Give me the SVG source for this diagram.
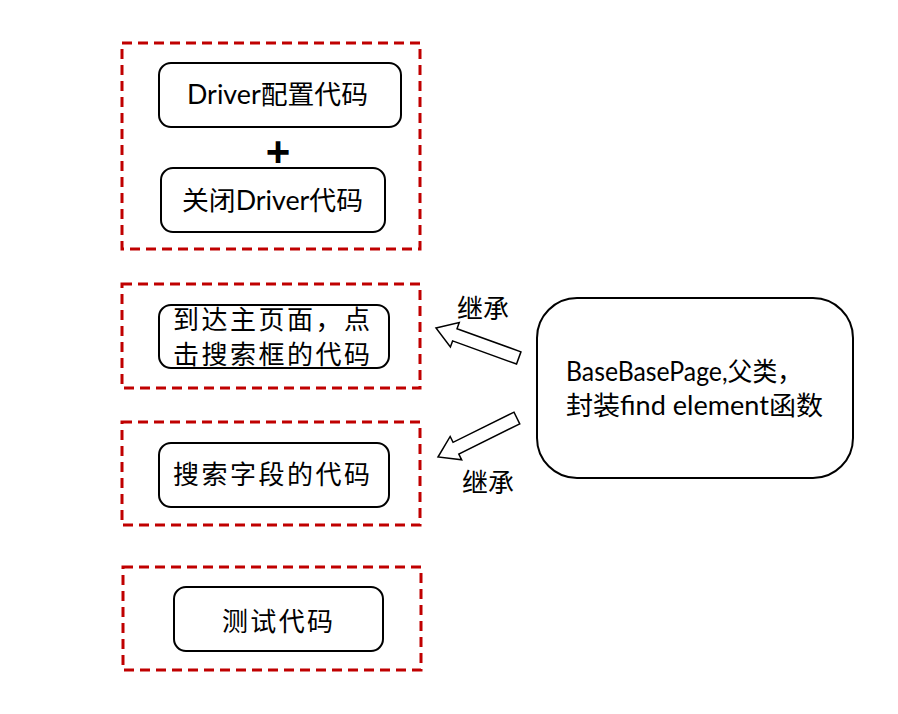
<svg xmlns="http://www.w3.org/2000/svg" width="898" height="714" viewBox="0 0 898 714">
<style>
.grp{fill:none;stroke:#C00000;stroke-width:3;stroke-dasharray:10 6}
.box{fill:#fff;stroke:#000;stroke-width:2}
.t{font-family:Lato,"Noto Sans CJK SC",sans-serif;font-size:26px;fill:#000}
.c{text-anchor:middle}
.arr{fill:#fff;stroke:#000;stroke-width:1.5;stroke-linejoin:miter}
</style>
<defs>
<polygon id="blk" points="-88,-6.5 -20,-6.5 -20,-13 0,0 -20,13 -20,6.5 -88,6.5"/>
</defs>
<rect width="898" height="714" fill="#fff"/>
<g id="group1">
<rect class="grp" x="122" y="43" width="298" height="206"/>
</g>
<g id="driverConfig">
<rect class="box" x="159" y="63" width="242" height="64" rx="12"/>
<text class="t" x="187" y="104" textLength="181" lengthAdjust="spacingAndGlyphs">Driver配置代码</text>
</g>
<g id="plus">
<text x="278" y="166" style="font-family:'Liberation Sans',sans-serif;font-size:42px;font-weight:bold;text-anchor:middle">+</text>
</g>
<g id="closeDriver">
<rect class="box" x="161" y="168" width="224" height="64" rx="12"/>
<text class="t" x="182" y="210" textLength="181" lengthAdjust="spacingAndGlyphs">关闭Driver代码</text>
</g>
<g id="group2">
<rect class="grp" x="122" y="284" width="298" height="104"/>
</g>
<g id="mainPage">
<rect class="box" x="159" y="305" width="230" height="63" rx="12"/>
<text class="t" x="173" y="329" textLength="197">到达主页面，点</text>
<text class="t" x="173" y="364" textLength="197">击搜索框的代码</text>
</g>
<g id="group3">
<rect class="grp" x="122" y="422" width="298" height="103"/>
</g>
<g id="searchField">
<rect class="box" x="159" y="443" width="230" height="64" rx="12"/>
<text class="t" x="173" y="484" textLength="197">搜索字段的代码</text>
</g>
<g id="group4">
<rect class="grp" x="123" y="567" width="298" height="103"/>
</g>
<g id="testCode">
<rect class="box" x="174" y="587" width="209" height="64" rx="12"/>
<text class="t" x="222" y="631" textLength="111">测试代码</text>
</g>
<g id="basePage">
<rect class="box" x="537" y="298" width="316" height="180" rx="40"/>
<text class="t" x="566" y="381" textLength="236" lengthAdjust="spacingAndGlyphs">BaseBasePage,父类，</text>
<text class="t" x="566" y="415" textLength="257" lengthAdjust="spacingAndGlyphs">封装find element函数</text>
</g>
<g id="connectors">
<use href="#blk" class="arr" transform="translate(436,328) rotate(199.9)"/>
<text class="t" x="457" y="318">继承</text>
<use href="#blk" class="arr" transform="translate(438,457) rotate(153.7)"/>
<text class="t" x="462" y="492">继承</text>
</g>
</svg>
